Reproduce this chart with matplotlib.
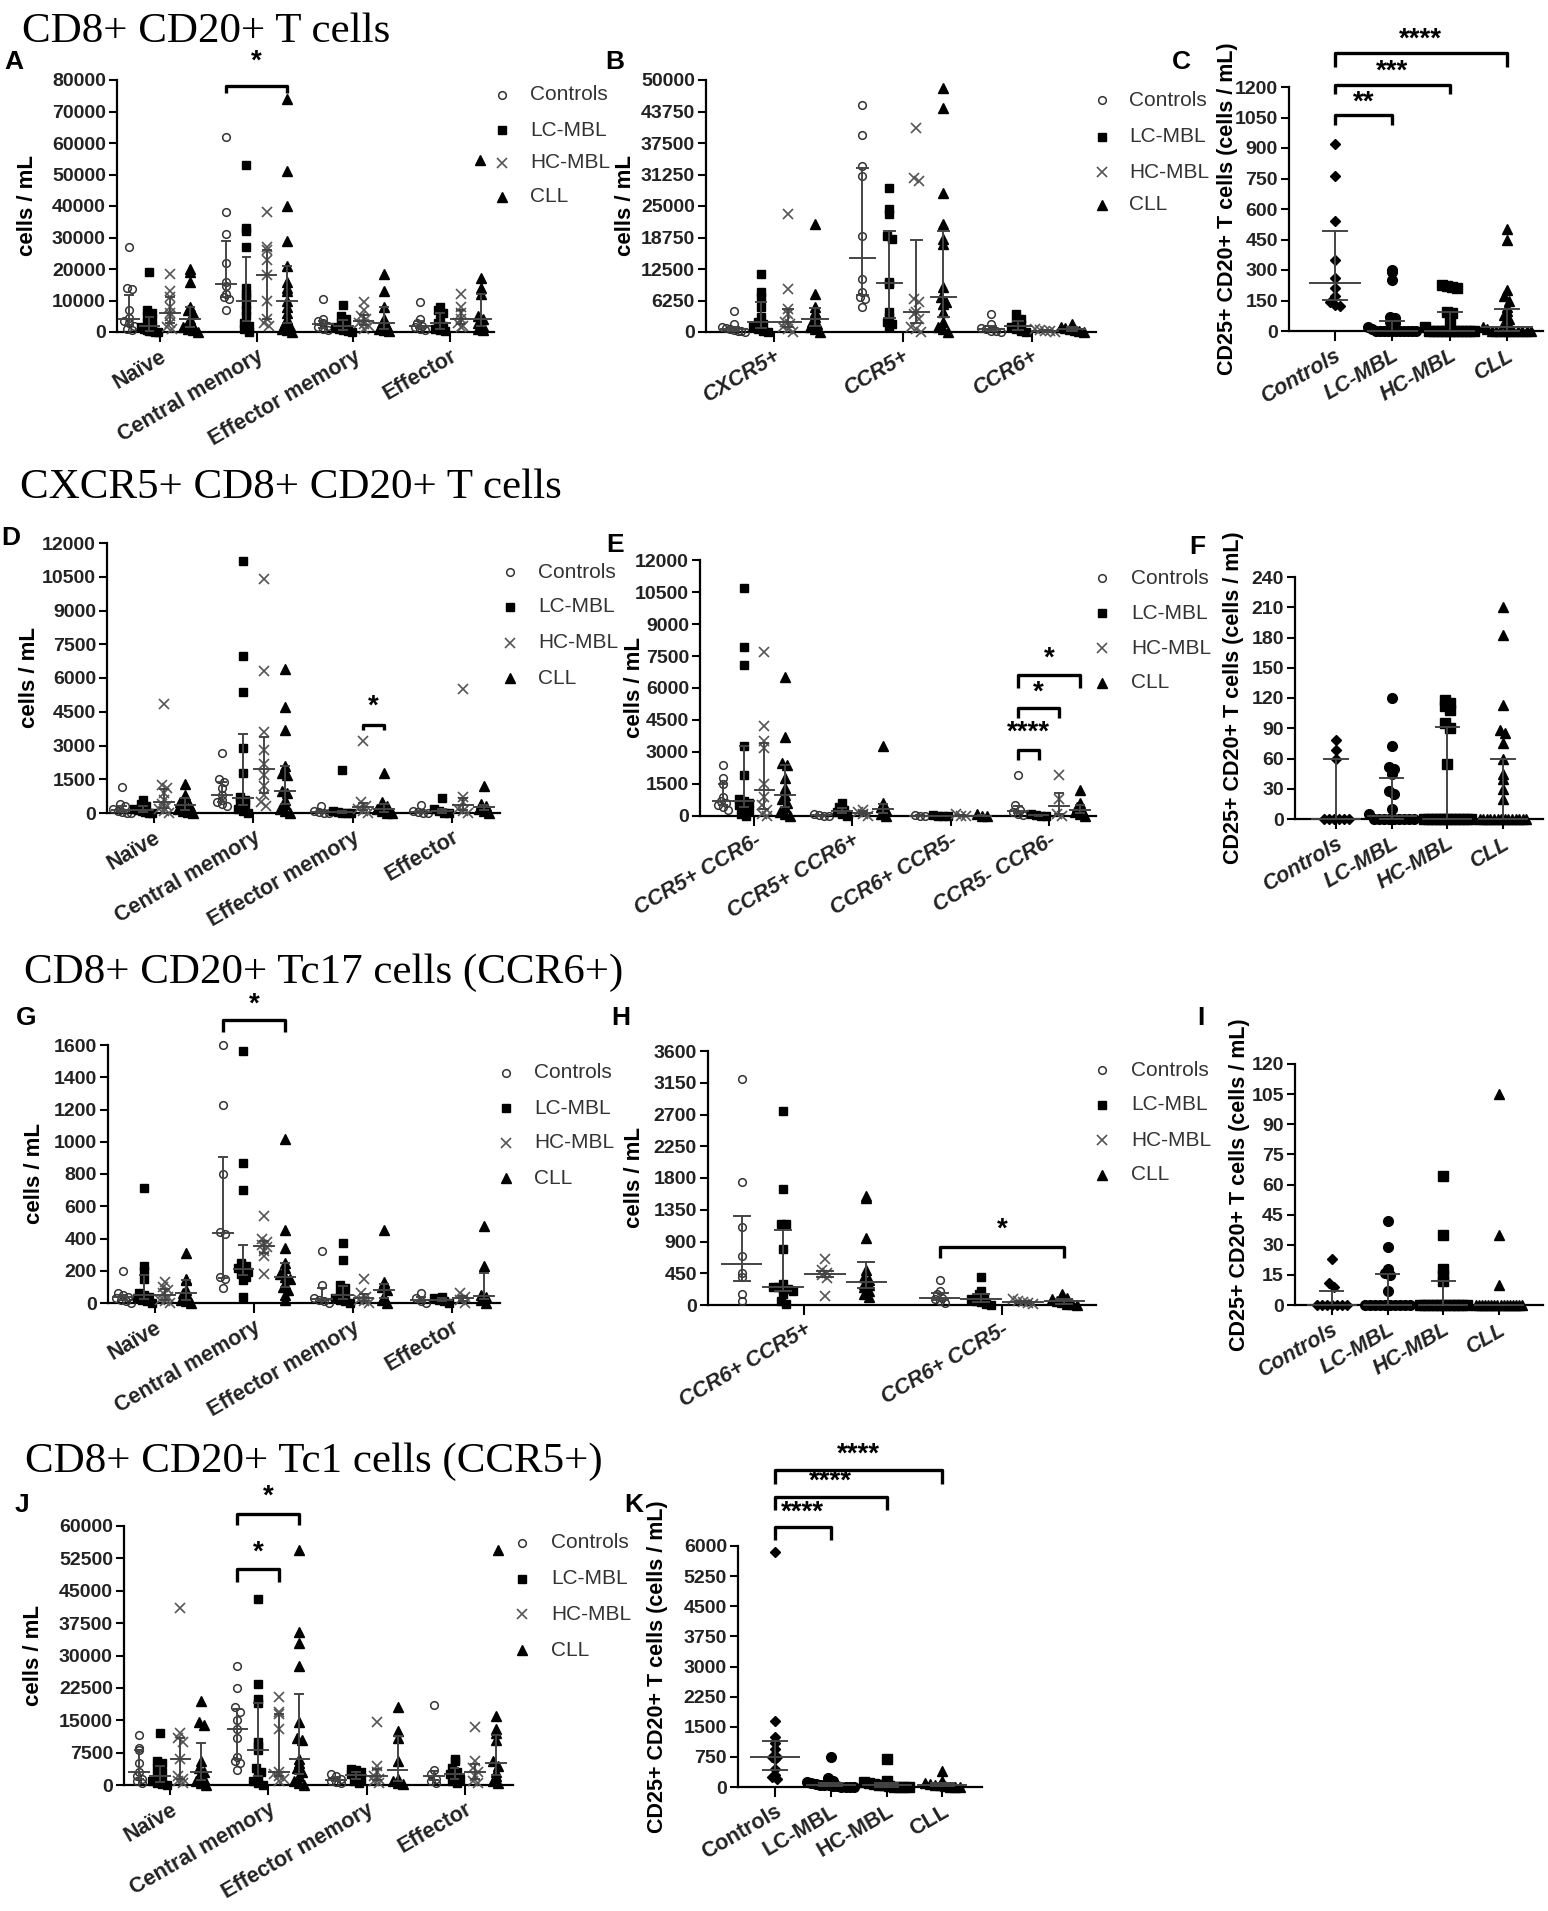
import numpy as np
import matplotlib
matplotlib.use('Agg')
import matplotlib.pyplot as plt
from matplotlib.lines import Line2D

W, H = 1548, 1911
plt.rcParams['font.family'] = ['Liberation Sans', 'DejaVu Sans']

groups = ['Controls', 'LC-MBL', 'HC-MBL', 'CLL']
subsets = ['Naïve', 'Central memory', 'Effector memory', 'Effector']
chemo_b = ['CXCR5+', 'CCR5+', 'CCR6+']
chemo_e = ['CCR5+ CCR6-', 'CCR5+ CCR6+', 'CCR6+ CCR5-', 'CCR5- CCR6-']
chemo_h = ['CCR6+ CCR5+', 'CCR6+ CCR5-']

# ---- A: CD8+ CD20+ T cells, memory subsets
a_ctrl = [[27000, 14000, 13500, 7000, 4500, 3500, 3000, 2000, 1000, 500],
          [62000, 38000, 31000, 22000, 16000, 14500, 12000, 11000, 10500, 7000],
          [10500, 4000, 3500, 3000, 2000, 1500, 1000, 500],
          [9500, 4000, 3000, 2000, 1500, 1000, 500]]
a_lc = [[19000, 7000, 6000, 5000, 4000, 3000, 2000, 1500, 1000, 500, 300, 200, 100, 0],
        [53000, 33000, 32000, 27000, 14000, 12000, 11000, 9000, 7000, 5000, 3000, 2000, 1000, 0],
        [8500, 5000, 4000, 3000, 2000, 1500, 1000, 500, 300, 100],
        [8000, 7000, 6000, 4000, 3000, 2000, 1000, 500, 200]]
a_hc = [[18500, 13000, 11000, 8000, 6000, 5000, 3000, 1500, 1000],
        [38000, 27000, 26000, 23000, 18000, 10000, 4000, 3000, 2000],
        [9500, 7000, 5000, 4000, 3000, 2500, 2000, 1000],
        [12000, 8000, 6000, 4000, 3000, 2000, 1500]]
a_cll = [[20000, 19000, 16000, 8000, 7000, 6000, 4000, 3000, 2000, 1500, 1000, 500, 0],
         [74000, 51000, 40000, 29000, 21000, 16000, 14000, 13000, 10000, 8000, 6000, 4000, 3000, 2000, 1000, 500, 0],
         [18500, 13000, 8000, 4000, 3000, 2000, 1000, 500, 200],
         [17000, 14000, 12000, 5000, 4000, 3000, 2000, 1000, 500]]

# ---- B: chemokine receptors
b_ctrl = [[4200, 1500, 1000, 800, 500, 300, 200, 100, 0],
          [45000, 39000, 33000, 31000, 19000, 10500, 8000, 7000, 6500, 5000],
          [3500, 1500, 800, 500, 200, 100, 0]]
b_lc = [[11500, 8000, 7000, 5000, 3000, 2000, 1500, 1000, 500, 200, 0],
        [28500, 24500, 23500, 19000, 18500, 10000, 9500, 4000, 3000, 2000, 1500, 1000],
        [3500, 2500, 2000, 1500, 1000, 500, 200, 0]]
b_hc = [[23500, 8500, 4500, 3500, 2000, 1500, 1000, 500, 0],
        [40500, 30500, 30000, 6500, 6000, 4000, 3500, 2500, 1000, 500, 0],
        [500, 300, 200, 100, 0]]
b_cll = [[21500, 7500, 5000, 4000, 3000, 2000, 1500, 1000, 500, 0],
         [48500, 44500, 27500, 21500, 18500, 17500, 9000, 7000, 6000, 5500, 4000, 2000, 1000, 500, 0],
         [1500, 1000, 800, 500, 300, 100, 0]]

# ---- C: CD25+ CD20+ T cells
c_vals = [[920, 760, 540, 350, 260, 210, 170, 145, 130, 125],
          [300, 290, 250, 70, 65, 45, 40, 20, 10, 0, 0, 0, 0, 0, 0, 0, 0, 0, 0, 0],
          [225, 220, 215, 210, 95, 90, 50, 20, 0, 0, 0, 0, 0, 0, 0, 0, 0, 0, 0, 0],
          [500, 450, 200, 170, 150, 120, 100, 80, 60, 40, 30, 20, 10, 0, 0, 0, 0, 0, 0, 0, 0, 0, 0]]

# ---- D: CXCR5+ CD8+ CD20+ T cells
d_ctrl = [[1150, 400, 300, 200, 100, 50, 0, 0],
          [2650, 1500, 1400, 1100, 800, 600, 500, 400, 300],
          [300, 100, 50, 0, 0],
          [350, 100, 50, 0, 0]]
d_lc = [[600, 400, 300, 200, 150, 100, 50, 0, 0],
        [11200, 7000, 5400, 2900, 1800, 700, 600, 500, 400, 200, 100, 0],
        [1900, 100, 50, 0, 0, 0],
        [650, 200, 100, 0, 0]]
d_hc = [[4850, 1250, 1100, 900, 600, 400, 300, 200, 100, 0],
        [10400, 6300, 3600, 2800, 2200, 1700, 1200, 800, 500, 300],
        [3200, 500, 300, 200, 100, 0],
        [5500, 700, 500, 200, 100, 0]]
d_cll = [[1300, 800, 700, 500, 400, 300, 200, 100, 50, 0],
         [6400, 4700, 3700, 2100, 1800, 1700, 1000, 900, 600, 400, 200, 100, 0],
         [1800, 500, 300, 200, 100, 0, 0],
         [1200, 400, 300, 200, 100, 0]]

# ---- E
e_ctrl = [[2400, 1800, 1500, 900, 700, 600, 500, 400, 300],
          [100, 50, 0, 0],
          [50, 0, 0],
          [1900, 500, 300, 200, 100, 50]]
e_lc = [[10700, 7900, 7100, 3300, 1900, 800, 700, 600, 500, 400, 300, 100, 0],
        [600, 400, 300, 200, 100, 0],
        [50, 0, 0, 0],
        [100, 50, 0, 0]]
e_hc = [[7700, 4200, 3500, 3200, 1500, 900, 500, 300, 100, 0],
        [300, 200, 100, 0],
        [100, 0, 0],
        [1900, 800, 100, 0]]
e_cll = [[6500, 3700, 2500, 2400, 1800, 1300, 1000, 800, 600, 400, 200, 100, 0],
         [3300, 600, 400, 300, 100, 0],
         [100, 0, 0],
         [1200, 600, 400, 300, 200, 100, 0]]

# ---- F
f_vals = [[78, 68, 60, 0, 0, 0, 0, 0, 0],
          [120, 72, 52, 50, 45, 28, 25, 10, 5, 0, 0, 0, 0, 0, 0, 0, 0, 0],
          [118, 115, 112, 108, 95, 90, 55, 0, 0, 0, 0, 0, 0, 0, 0, 0, 0, 0, 0, 0],
          [210, 182, 113, 88, 85, 75, 60, 45, 40, 30, 20, 0, 0, 0, 0, 0, 0, 0, 0, 0, 0, 0, 0, 0, 0]]

# ---- G: Tc17
g_ctrl = [[200, 60, 50, 40, 30, 20, 10, 0],
          [1600, 1230, 800, 440, 430, 160, 150, 90],
          [320, 110, 30, 20, 10, 0],
          [60, 30, 10, 0]]
g_lc = [[715, 230, 200, 150, 60, 50, 40, 30, 20, 10, 0],
        [1560, 870, 700, 250, 230, 220, 200, 190, 180, 160, 140, 40],
        [375, 265, 110, 90, 60, 40, 30, 20, 10, 0],
        [40, 30, 20, 10, 0]]
g_hc = [[130, 100, 80, 60, 40, 20, 10, 0],
        [540, 400, 380, 360, 350, 320, 290, 180],
        [150, 60, 40, 20, 10, 0],
        [60, 40, 20, 0]]
g_cll = [[310, 150, 140, 80, 60, 40, 20, 10, 0],
         [1020, 450, 340, 250, 220, 180, 160, 150, 120, 100, 80, 50, 20],
         [450, 130, 100, 80, 40, 20, 0],
         [480, 230, 50, 40, 20, 0]]

# ---- H
h_ctrl = [[3200, 1750, 1100, 700, 450, 400, 150, 50],
          [350, 200, 150, 100, 80, 50, 30]]
h_lc = [[2750, 1650, 1150, 1150, 800, 300, 250, 250, 230, 220, 200, 150, 50, 10],
        [400, 200, 150, 100, 80, 60, 40, 20, 0]]
h_hc = [[650, 500, 450, 420, 380, 130],
        [80, 50, 40, 30, 20]]
h_cll = [[1550, 1520, 950, 500, 400, 350, 300, 280, 250, 200, 150, 120],
         [150, 100, 80, 60, 40, 20, 10, 0]]

# ---- I
i_vals = [[23, 11, 9, 0, 0, 0, 0, 0, 0, 0],
          [42, 29, 18, 16, 15, 7, 0, 0, 0, 0, 0, 0, 0, 0, 0, 0],
          [64, 35, 18, 15, 12, 0, 0, 0, 0, 0, 0, 0, 0, 0, 0, 0, 0],
          [105, 35, 10, 0, 0, 0, 0, 0, 0, 0, 0, 0, 0, 0, 0, 0, 0, 0, 0]]

# ---- J: Tc1
j_ctrl = [[11500, 8500, 8000, 5000, 3000, 2000, 1500, 1000, 500],
          [27500, 22500, 18000, 17000, 15000, 13000, 11000, 6500, 5500, 5000, 3500],
          [2500, 2000, 1500, 1000, 800, 500],
          [18500, 3500, 2500, 1500, 1000, 500]]
j_lc = [[12000, 5500, 5000, 4000, 3000, 2000, 1500, 1000, 500, 300, 0],
        [43000, 23500, 20000, 19000, 10000, 9000, 8000, 4000, 3000, 2000, 1000, 500, 0],
        [3800, 3500, 3000, 2500, 2000, 1500, 1000, 500],
        [6000, 5500, 4000, 3000, 2500, 2000, 1500, 1000, 500]]
j_hc = [[41000, 12000, 11000, 10000, 6000, 2000, 1500, 1000, 500],
        [20500, 17000, 16500, 13000, 3000, 2500, 2000, 1500, 1000],
        [14500, 4500, 3000, 2000, 1500, 1000, 500],
        [13500, 5500, 4000, 3000, 2000, 1000, 500]]
j_cll = [[19500, 14500, 14000, 5500, 4000, 3000, 2000, 1500, 1000, 500, 0],
         [54500, 35500, 33000, 27500, 14500, 11000, 10500, 6000, 5000, 4000, 3000, 2000, 1000, 500, 0],
         [18000, 12500, 11000, 5500, 1500, 1000, 500, 200],
         [16000, 13000, 12000, 10500, 5500, 4500, 3000, 2000, 1000, 500]]

# ---- K
k_vals = [[5850, 1650, 1250, 1100, 950, 750, 750, 700, 450, 300, 250, 200],
          [750, 220, 150, 120, 100, 80, 60, 50, 40, 30, 20, 10, 0, 0, 0],
          [700, 160, 130, 100, 80, 60, 40, 20, 10, 0, 0, 0],
          [400, 150, 100, 80, 60, 40, 20, 10, 0, 0]]

# marker styles
multi_st = [dict(marker='o', ms=5.5, mfc='none', mec='#333333', mew=1.1),
            dict(marker='s', ms=6, color='black'),
            dict(marker='x', ms=6.5, color='#555555', mew=1.2),
            dict(marker='^', ms=6.5, color='black')]
single_st = [dict(marker='D', ms=5, color='black'),
             dict(marker='o', ms=7, color='black'),
             dict(marker='s', ms=6.5, color='black'),
             dict(marker='^', ms=7, color='black')]

fig = plt.figure(figsize=(W / 100, H / 100), dpi=100)


def rect(l, t, r, b):
    return [l / W, 1 - b / H, (r - l) / W, (b - t) / H]


def spread(vals, dy, dx, maxw):
    offs = np.zeros(len(vals))
    bins = np.floor(vals / dy)
    for b in np.unique(bins):
        idx = np.where(bins == b)[0]
        n = len(idx)
        if n < 2:
            continue
        step = min(dx, 2 * maxw / (n - 1))
        offs[idx] = (np.arange(n) - (n - 1) / 2) * step
    return offs


def draw_col(ax, x0, vals, st, info, medw, capw, maxw):
    vals = np.asarray(vals, float)
    xs = x0 + spread(vals, info[0], info[1], maxw)
    ax.plot(xs, vals, ls='none', clip_on=False, zorder=3, **st)
    q1, med, q3 = np.percentile(vals, [25, 50, 75])
    kw = dict(color='#444444', lw=1.4, zorder=4, clip_on=False)
    ax.plot([x0 - medw, x0 + medw], [med, med], **kw)
    ax.plot([x0, x0], [q1, q3], **kw)
    ax.plot([x0 - capw, x0 + capw], [q3, q3], **kw)
    ax.plot([x0 - capw, x0 + capw], [q1, q1], **kw)


def make_ax(box, ymax, step, xlim, cats, italic, lab_x, ylabel='cells / mL', ysize=16):
    ax = fig.add_axes(rect(*box))
    ax.set_xlim(*xlim)
    ax.set_ylim(0, ymax)
    ticks = np.arange(0, ymax + 1, step)
    ax.set_yticks(ticks)
    ax.set_yticklabels(['%d' % t for t in ticks], fontweight='bold', fontsize=14, color='#222222')
    ax.set_xticks(range(len(cats)))
    ax.set_xticklabels(cats, rotation=30, ha='right', rotation_mode='anchor', fontweight='bold',
                       fontsize=15.5, color='#222222', style='italic' if italic else 'normal')
    for s in ['top', 'right']:
        ax.spines[s].set_visible(False)
    for s in ['left', 'bottom']:
        ax.spines[s].set_linewidth(1.6)
    ax.tick_params(axis='y', length=6, width=1.5, pad=2)
    ax.tick_params(axis='x', length=7, width=1.5, pad=3)
    ax.set_ylabel(ylabel, fontweight='bold', fontsize=ysize)
    ax.yaxis.set_label_coords((lab_x - box[0]) / (box[2] - box[0]), 0.5)
    # data units per marker pixel, for the point spreading
    dy = ymax / (box[3] - box[1]) * 6
    dx = (xlim[1] - xlim[0]) / (box[2] - box[0]) * 5
    return ax, (dy, dx)


def multi_panel(box, ymax, step, xlim, cats, cols, italic, lab_x):
    ax, info = make_ax(box, ymax, step, xlim, cats, italic, lab_x)
    offs = [-0.315, -0.105, 0.105, 0.315]
    for gi in range(len(cats)):
        for k in range(4):
            draw_col(ax, gi + offs[k], cols[k][gi], multi_st[k], info, 0.1, 0.04, 0.09)
    return ax


def single_panel(box, ymax, step, xlim, vals, lab_x, italic=True):
    ax, info = make_ax(box, ymax, step, xlim, groups, italic, lab_x,
                       ylabel='CD25+ CD20+ T cells (cells / mL)', ysize=15.5)
    for k in range(4):
        draw_col(ax, k, vals[k], single_st[k], info, 0.43, 0.21, 0.42)
    return ax


def bracket(ax, x1, x2, y, drop, label, ty):
    ax.plot([x1, x1, x2, x2], [y - drop, y, y, y - drop], color='black', lw=2.4, clip_on=False,
            solid_capstyle='butt')
    ax.text((x1 + x2) / 2, ty, label, ha='center', va='center', fontsize=20, fontweight='bold',
            clip_on=False)


def legend_at(xm, xt, rows, stray=None):
    for y, name, st in zip(rows, groups, multi_st):
        fig.add_artist(Line2D([xm / W], [1 - y / H], transform=fig.transFigure, ls='none', **st))
        fig.text(xt / W, 1 - y / H, name, fontsize=15, color='#333333', va='center', ha='left')
    if stray is not None:
        fig.add_artist(Line2D([stray[0] / W], [1 - stray[1] / H], transform=fig.transFigure,
                              ls='none', **multi_st[3]))


def title(x, y, txt):
    fig.text(x / W, 1 - y / H, txt, family='Liberation Serif', fontsize=31, va='baseline', ha='left')


def letter(x, y, txt):
    fig.text(x / W, 1 - y / H, txt, fontsize=19, fontweight='bold', va='center', ha='center')


# ---------------- row 1
title(22, 42, 'CD8+ CD20+ T cells')
axA = multi_panel((117, 80, 494, 332), 80000, 10000, (-0.44, 3.45), subsets,
                  [a_ctrl, a_lc, a_hc, a_cll], False, 38)
bracket(axA, 1 - 0.315, 1 + 0.315, 78100, 2300, '*', 85700)
legend_at(502, 530, [95, 130, 163, 197], stray=(480, 160))
letter(14, 62, 'A')

axB = multi_panel((706, 80, 1096, 332), 50000, 6250, (-0.53, 2.5), chemo_b,
                  [b_ctrl, b_lc, b_hc, b_cll], True, 636)
legend_at(1102, 1129, [100, 137, 172, 205])
letter(615, 62, 'B')

axC = single_panel((1289, 87, 1543, 331), 1200, 150, (-0.8, 3.63), c_vals, 1238)
bracket(axC, 0, 1, 1062, 50, '**', 1121)
bracket(axC, 0, 2, 1210, 45, '***', 1274)
bracket(axC, 0, 3, 1367, 70, '****', 1431)
letter(1181, 62, 'C')

# ---------------- row 2
title(20, 498, 'CXCR5+ CD8+ CD20+ T cells')
axD = multi_panel((107, 543, 500, 813), 12000, 1500, (-0.47, 3.48), subsets,
                  [d_ctrl, d_lc, d_hc, d_cll], False, 40)
bracket(axD, 2 + 0.105, 2 + 0.315, 3911, 220, '*', 4711)
legend_at(510, 538, [572, 607, 643, 678])
letter(11, 538, 'D')

axE = multi_panel((700, 560, 1096, 816), 12000, 1500, (-0.55, 3.48), chemo_e,
                  [e_ctrl, e_lc, e_hc, e_cll], True, 645)
bracket(axE, 3 - 0.315, 3 - 0.105, 3094, 470, '****', 3890)
bracket(axE, 3 - 0.315, 3 + 0.105, 5062, 470, '*', 5766)
bracket(axE, 3 - 0.315, 3 + 0.315, 6609, 600, '*', 7360)
legend_at(1102, 1131, [578, 613, 648, 683])
letter(615, 545, 'E')

axF = single_panel((1295, 577, 1543, 819), 240, 30, (-0.74, 3.72), f_vals, 1244)
letter(1197, 547, 'F')

# ---------------- row 3
title(24, 983, 'CD8+ CD20+ Tc17 cells (CCR6+)')
axG = multi_panel((108, 1045, 500, 1303), 1600, 200, (-0.47, 3.48), subsets,
                  [g_ctrl, g_lc, g_hc, g_cll], False, 45)
bracket(axG, 1 - 0.315, 1 + 0.315, 1755, 75, '*', 1848)
legend_at(506, 534, [1073, 1108, 1143, 1178])
letter(26, 1018, 'G')

axH = multi_panel((708, 1051, 1096, 1305), 3600, 450, (-0.485, 1.475), chemo_h,
                  [h_ctrl, h_lc, h_hc, h_cll], True, 645)
bracket(axH, 1 - 0.315, 1 + 0.315, 822, 156, '*', 1063)
legend_at(1102, 1131, [1070, 1105, 1140, 1175])
letter(621, 1018, 'H')

axI = single_panel((1295, 1064, 1543, 1305), 120, 15, (-0.66, 3.79), i_vals, 1250)
letter(1201, 1018, 'I')

# ---------------- row 4
title(25, 1472, 'CD8+ CD20+ Tc1 cells (CCR5+)')
axJ = multi_panel((124, 1526, 513, 1785), 60000, 7500, (-0.47, 3.49), subsets,
                  [j_ctrl, j_lc, j_hc, j_cll], False, 44)
bracket(axJ, 1 - 0.315, 1 + 0.315, 62780, 2550, '*', 66720)
bracket(axJ, 1 - 0.315, 1 + 0.105, 50040, 3000, '*', 53750)
legend_at(522, 551, [1543, 1579, 1614, 1650], stray=(498, 1550))
letter(22, 1505, 'J')

axK = single_panel((738, 1546, 982, 1787), 6000, 750, (-0.66, 3.71), k_vals, 668, italic=False)
bracket(axK, 0, 1, 6474, 324, '****', 6822)
bracket(axK, 0, 2, 7221, 324, '****', 7595)
bracket(axK, 0, 3, 7893, 348, '****', 8267)
letter(634, 1505, 'K')

fig.savefig('out.png', dpi=100)
